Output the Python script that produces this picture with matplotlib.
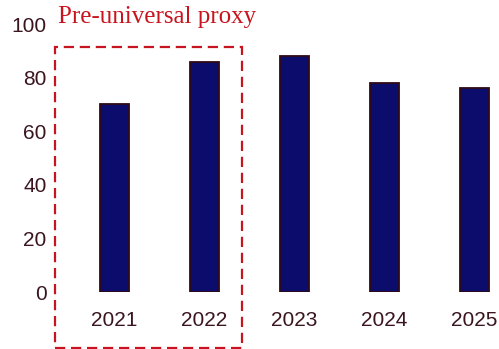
import matplotlib
matplotlib.use("Agg")
import matplotlib.pyplot as plt
from matplotlib.patches import Rectangle

years = ["2021", "2022", "2023", "2024", "2025"]
values = [70, 86, 88, 78, 76]
yticks = [0, 20, 40, 60, 80, 100]
annotation = "Pre-universal proxy"

W, H = 499, 349
fig = plt.figure(figsize=(W / 100, H / 100), dpi=100)
ax = fig.add_axes([55 / W, (H - 292) / H, (499 - 55) / W, (292 - 24) / H])

x = list(range(len(years)))
ax.bar(x, values, width=0.32, color="#0c0c6c", edgecolor="#2e0a14", linewidth=1.3, zorder=3)
ax.set_xlim(-0.661, 4.272)
ax.set_ylim(0, 100)
ax.set_xticks(x)
ax.set_xticklabels(years)
ax.set_yticks(yticks)
tick_color = "#3a1520"
ax.tick_params(axis="both", length=0, labelsize=15, labelcolor=tick_color,
               labelfontfamily="Liberation Sans")
ax.tick_params(axis="x", pad=14)
ax.tick_params(axis="y", pad=6)
for s in ax.spines.values():
    s.set_visible(False)

rect = Rectangle((55 / W, (H - 348) / H), (242 - 55) / W, (348 - 46.5) / H,
                 transform=fig.transFigure, fill=False, edgecolor="#c8141e",
                 linewidth=1.6, linestyle=(0, (4.6, 2.6)), clip_on=False)
fig.add_artist(rect)
fig.text(58 / W, (H - 17) / H, annotation, ha="left", va="center", fontsize=18,
         color="#c8141e", family="Liberation Serif")

fig.savefig("out.png", dpi=100)
